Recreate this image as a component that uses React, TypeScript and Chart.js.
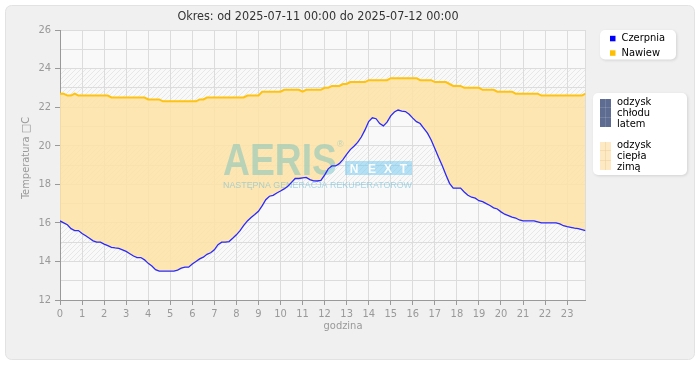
import { useEffect, useRef } from 'react';
import { Chart, registerables } from 'chart.js';

Chart.register(...registerables);

const FONT = "'DejaVu Sans Condensed', 'DejaVu Sans', sans-serif";

const title = 'Okres: od 2025-07-11 00:00 do 2025-07-12 00:00';
const yTitle = 'Temperatura \u25A1C';
const xTitle = 'godzina';
const seriesNames = ['Czerpnia', 'Nawiew'];
const seriesColors = ['#2a2aff', '#ffc20e'];
const fillLegend = [
  ['odzysk', 'chłodu', 'latem'],
  ['odzysk', 'ciepła', 'zimą'],
];
const hatchBands = [
  [14, 16],
  [18, 20],
  [22, 24],
];

// 10-minute samples, 00:00 .. 23:50
const czerpnia = [
  16.1, 16.0, 15.9, 15.7, 15.6, 15.6, 15.45, 15.33, 15.2, 15.07,
  15.0, 15.0, 14.9, 14.82, 14.73, 14.7, 14.68, 14.6, 14.52, 14.4,
  14.28, 14.2, 14.2, 14.08, 13.9, 13.76, 13.57, 13.5, 13.5, 13.5,
  13.5, 13.5, 13.55, 13.65, 13.7, 13.7, 13.87, 14.0, 14.13, 14.22,
  14.37, 14.45, 14.6, 14.87, 15.0, 15.0, 15.03, 15.2, 15.38, 15.6,
  15.87, 16.1, 16.28, 16.43, 16.6, 16.88, 17.2, 17.38, 17.43, 17.55,
  17.65, 17.76, 17.9, 18.1, 18.3, 18.3, 18.33, 18.36, 18.24, 18.18,
  18.17, 18.2, 18.48, 18.8, 18.95, 18.95, 19.07, 19.28, 19.55, 19.8,
  19.97, 20.17, 20.45, 20.82, 21.25, 21.45, 21.4, 21.15, 21.03, 21.22,
  21.55, 21.75, 21.85, 21.79, 21.77, 21.63, 21.43, 21.25, 21.15, 20.9,
  20.65, 20.3, 19.86, 19.4, 18.97, 18.5, 18.05, 17.8, 17.8, 17.8,
  17.6, 17.43, 17.33, 17.28, 17.15, 17.1, 17.0, 16.9, 16.78, 16.72,
  16.57, 16.45, 16.38, 16.3, 16.25, 16.15, 16.1, 16.1, 16.1, 16.1,
  16.05, 16.0, 16.0, 16.0, 16.0, 16.0, 15.95, 15.85, 15.8, 15.77,
  15.73, 15.7, 15.65, 15.6,
];

const nawiew = [
  22.7, 22.7, 22.6, 22.6, 22.7, 22.6, 22.6, 22.6, 22.6, 22.6,
  22.6, 22.6, 22.6, 22.6, 22.5, 22.5, 22.5, 22.5, 22.5, 22.5,
  22.5, 22.5, 22.5, 22.5, 22.4, 22.4, 22.4, 22.4, 22.3, 22.3,
  22.3, 22.3, 22.3, 22.3, 22.3, 22.3, 22.3, 22.3, 22.4, 22.4,
  22.5, 22.5, 22.5, 22.5, 22.5, 22.5, 22.5, 22.5, 22.5, 22.5,
  22.5, 22.6, 22.6, 22.6, 22.6, 22.8, 22.8, 22.8, 22.8, 22.8,
  22.8, 22.9, 22.9, 22.9, 22.9, 22.9, 22.8, 22.9, 22.9, 22.9,
  22.9, 22.9, 23.0, 23.0, 23.1, 23.1, 23.1, 23.2, 23.2, 23.3,
  23.3, 23.3, 23.3, 23.3, 23.4, 23.4, 23.4, 23.4, 23.4, 23.4,
  23.5, 23.5, 23.5, 23.5, 23.5, 23.5, 23.5, 23.5, 23.4, 23.4,
  23.4, 23.4, 23.3, 23.3, 23.3, 23.3, 23.2, 23.1, 23.1, 23.1,
  23.0, 23.0, 23.0, 23.0, 23.0, 22.9, 22.9, 22.9, 22.9, 22.8,
  22.8, 22.8, 22.8, 22.8, 22.7, 22.7, 22.7, 22.7, 22.7, 22.7,
  22.7, 22.6, 22.6, 22.6, 22.6, 22.6, 22.6, 22.6, 22.6, 22.6,
  22.6, 22.6, 22.6, 22.7,
];

const hours = czerpnia.map((_, i) => i / 6);

function rr(ctx: CanvasRenderingContext2D, x: number, y: number, w: number, h: number, r: number) {
  ctx.beginPath();
  ctx.moveTo(x + r, y);
  ctx.lineTo(x + w - r, y);
  ctx.arcTo(x + w, y, x + w, y + r, r);
  ctx.lineTo(x + w, y + h - r);
  ctx.arcTo(x + w, y + h, x + w - r, y + h, r);
  ctx.lineTo(x + r, y + h);
  ctx.arcTo(x, y + h, x, y + h - r, r);
  ctx.lineTo(x, y + r);
  ctx.arcTo(x, y, x + r, y, r);
  ctx.closePath();
}

function hatchPattern(ctx: CanvasRenderingContext2D) {
  const c = document.createElement('canvas');
  c.width = 5;
  c.height = 5;
  const p = c.getContext('2d')!;
  p.strokeStyle = '#e7e7e7';
  p.lineWidth = 1;
  p.beginPath();
  p.moveTo(0, 5);
  p.lineTo(5, 0);
  p.moveTo(-1, 1);
  p.lineTo(1, -1);
  p.moveTo(4, 6);
  p.lineTo(6, 4);
  p.stroke();
  return ctx.createPattern(c, 'repeat')!;
}

const decor = {
  id: 'decor',
  beforeDraw(chart: any) {
    const { ctx, chartArea: a, scales } = chart;
    const y = scales.y;
    ctx.save();
    // frame
    rr(ctx, 5.5, 5.5, 689, 354, 6);
    ctx.fillStyle = '#f0f0f0';
    ctx.fill();
    ctx.strokeStyle = '#e2e2e2';
    ctx.lineWidth = 1;
    ctx.stroke();
    // plot background
    ctx.fillStyle = '#f9f9f9';
    ctx.fillRect(a.left, a.top, a.right - a.left, a.bottom - a.top);
    const pat = hatchPattern(ctx);
    ctx.fillStyle = pat;
    for (const [lo, hi] of hatchBands) {
      const y1 = y.getPixelForValue(hi);
      const y2 = y.getPixelForValue(lo);
      ctx.fillRect(a.left, y1, a.right - a.left, y2 - y1);
    }
    // titles
    ctx.fillStyle = '#333';
    ctx.font = `12.5px ${FONT}`;
    ctx.textAlign = 'center';
    ctx.textBaseline = 'middle';
    ctx.fillText(title, 318, 17);
    ctx.fillStyle = '#999';
    ctx.font = `11px ${FONT}`;
    ctx.fillText(xTitle, 343, 326);
    ctx.save();
    ctx.translate(26, 158);
    ctx.rotate(-Math.PI / 2);
    ctx.fillText(yTitle, 0, 0);
    ctx.restore();
    ctx.restore();
  },
  beforeDatasetsDraw(chart: any) {
    const { ctx, chartArea: a } = chart;
    ctx.save();
    // right border of plot
    ctx.strokeStyle = '#dcdcdc';
    ctx.lineWidth = 1;
    ctx.beginPath();
    ctx.moveTo(Math.round(a.right) - 0.5, a.top);
    ctx.lineTo(Math.round(a.right) - 0.5, a.bottom);
    ctx.stroke();
    ctx.textAlign = 'left';
    ctx.textBaseline = 'alphabetic';
    ctx.fillStyle = 'rgba(90,185,190,0.42)';
    ctx.font = "bold 44px 'Liberation Sans', sans-serif";
    ctx.fillText('AERIS', 223, 175, 114);
    ctx.font = "9px 'Liberation Sans', sans-serif";
    ctx.fillText('®', 337, 147);
    ctx.fillStyle = 'rgba(110,200,240,0.5)';
    ctx.fillRect(345, 161, 67, 14);
    ctx.fillStyle = 'rgba(255,255,255,0.95)';
    ctx.font = "bold 12px 'Liberation Sans', sans-serif";
    ctx.textAlign = 'center';
    const letters = ['N', 'E', 'X', 'T'];
    const cx = [354, 372, 388, 403.5];
    letters.forEach((l, i) => ctx.fillText(l, cx[i], 173));
    ctx.textAlign = 'left';
    ctx.fillStyle = 'rgba(100,185,215,0.55)';
    ctx.font = "9.5px 'Liberation Sans', sans-serif";
    ctx.fillText('NASTĘPNA GENERACJA REKUPERATORÓW', 223, 188, 189);
    ctx.restore();
  },
  afterDraw(chart: any) {
    const { ctx } = chart;
    ctx.save();
    ctx.shadowColor = 'rgba(0,0,0,0.12)';
    ctx.shadowBlur = 3;
    ctx.shadowOffsetX = 1;
    ctx.shadowOffsetY = 1;
    ctx.fillStyle = '#ffffff';
    rr(ctx, 600, 30, 76, 29.5, 5);
    ctx.fill();
    rr(ctx, 593, 93, 94, 82, 5);
    ctx.fill();
    ctx.restore();

    ctx.save();
    ctx.font = `11px ${FONT}`;
    ctx.textAlign = 'left';
    ctx.textBaseline = 'middle';
    const ys = [38.3, 52.8];
    seriesNames.forEach((n, i) => {
      ctx.fillStyle = i === 0 ? '#0000ff' : '#ffbf00';
      ctx.fillRect(610, ys[i] - 2.5, 5.5, 5.5);
      ctx.fillStyle = '#000';
      ctx.fillText(n, 621.5, ys[i]);
    });
    // fill legend
    const boxes = [
      { y: 99, fill: '#5e6c92', line: 'rgba(255,255,255,0.14)' },
      { y: 142, fill: '#fde9c4', line: 'rgba(235,205,150,0.45)' },
    ];
    boxes.forEach((b, i) => {
      ctx.fillStyle = b.fill;
      ctx.fillRect(600, b.y, 11, 28);
      ctx.strokeStyle = b.line;
      ctx.lineWidth = 1;
      ctx.beginPath();
      ctx.moveTo(605.5, b.y);
      ctx.lineTo(605.5, b.y + 28);
      ctx.moveTo(600, b.y + 8.5);
      ctx.lineTo(611, b.y + 8.5);
      ctx.moveTo(600, b.y + 18.5);
      ctx.lineTo(611, b.y + 18.5);
      ctx.stroke();
      ctx.fillStyle = '#000';
      fillLegend[i].forEach((t, j) => ctx.fillText(t, 617, b.y + 3 + j * 11));
    });
    ctx.restore();
  },
};

const isInt = (v: number) => Math.abs(v - Math.round(v)) < 1e-6;

export default function App() {
  const ref = useRef<HTMLCanvasElement>(null);
  useEffect(() => {
    const chart = new Chart(ref.current!, {
      type: 'line',
      data: {
        datasets: [
          {
            label: seriesNames[0],
            data: hours.map((h, i) => ({ x: h, y: czerpnia[i] })),
            borderColor: seriesColors[0],
            borderWidth: 1.3,
            pointRadius: 0,
            fill: false,
          },
          {
            label: seriesNames[1],
            data: hours.map((h, i) => ({ x: h, y: nawiew[i] })),
            borderColor: seriesColors[1],
            borderWidth: 2,
            pointRadius: 0,
            fill: { target: 0, above: 'rgba(254,227,168,0.88)', below: 'rgba(80,95,140,0.55)' },
          },
        ],
      },
      options: {
        responsive: false,
        animation: false,
        devicePixelRatio: 1,
        layout: { padding: { top: 30, right: 114.5, left: 0, bottom: 0 } },
        plugins: {
          legend: { display: false },
          title: { display: false },
          tooltip: { enabled: false },
          filler: { drawTime: 'beforeDatasetsDraw' },
        } as any,
        scales: {
          x: {
            type: 'linear',
            min: 0,
            max: hours[hours.length - 1],
            grid: {
              color: '#dcdcdc',
              tickLength: 5,
              tickColor: '#999',
            },
            border: { color: '#999' },
            ticks: {
              stepSize: 1,
              includeBounds: false,
              autoSkip: false,
              maxRotation: 0,
              color: '#999',
              padding: 3,
              font: { family: FONT, size: 11 },
              callback: (v: any) => (isInt(Number(v)) ? String(Math.round(Number(v))) : ''),
            },
            afterFit: (s: any) => {
              s.height = 80;
            },
          },
          y: {
            min: 12,
            max: 26,
            grid: {
              color: '#dcdcdc',
              tickLength: 5,
              tickColor: (c: any) => (c.tick && Math.round(c.tick.value) % 2 === 0 ? '#999' : 'rgba(0,0,0,0)'),
            },
            border: { color: '#999' },
            ticks: {
              stepSize: 1,
              color: '#999',
              padding: 4,
              font: { family: FONT, size: 11 },
              callback: (v: any) => (Math.round(Number(v)) % 2 === 0 ? String(v) : ''),
            },
            afterFit: (s: any) => {
              s.width = 60;
            },
          },
        },
      } as any,
      plugins: [decor],
    });
    return () => chart.destroy();
  }, []);
  return (
    <div style={{ position: 'absolute', left: 0, top: 0, width: 700, height: 380 }}>
      <canvas ref={ref} width={700} height={380} style={{ display: 'block', width: 700, height: 380 }} />
    </div>
  );
}
